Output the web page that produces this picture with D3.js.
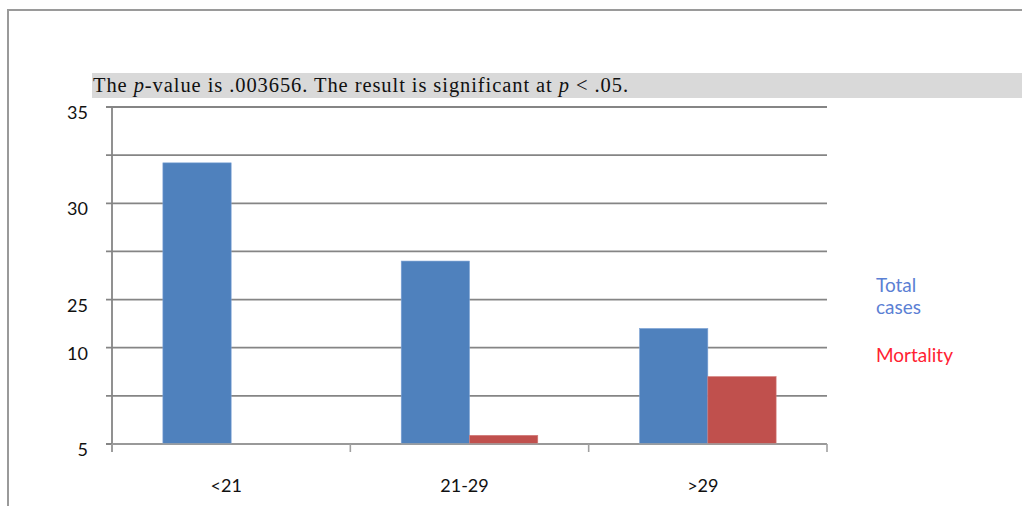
<!DOCTYPE html>
<html>
<head>
<meta charset="utf-8">
<script src="https://cdn.jsdelivr.net/npm/d3@7"></script>
<style>
    body { margin: 0; background: #fff; }
    svg { display: block; }
    .grid line { stroke: #858585; stroke-width: 1.8; }
    .lbl { font-family: Lato, "Open Sans", sans-serif; font-size: 18px; fill: #111; }
</style>
</head>
<body>
<svg id="canvas" width="1022" height="506"></svg>
<script>
// categories and series
const categories = ['<21', '21-29', '>29'];
const seriesNames = ['Total cases', 'Mortality'];
const totalCases = [29.2, 19, 12];
const mortality = [0, 0.9, 7];

// gridlines are every 5 on the hidden scale, only some carry a label
const gridValues = [0, 5, 10, 15, 20, 25, 30, 35];
const labelValues = [35, 25, 15, 10, 0];
const tickLabels = ['35', '30', '25', '10', '5'];

const seriesColors = ['#4f81bd', '#c0504d'];
const legendColors = ['#5b80d4', '#ff2232'];

const svg = d3.select('#canvas');

// outer frame
svg.append('path')
    .attr('d', 'M8,506V10H1022')
    .attr('fill', 'none')
    .attr('stroke', '#9a9a9a')
    .attr('stroke-width', 2);

// banner
svg.append('rect')
    .attr('x', 92).attr('y', 73)
    .attr('width', 930).attr('height', 25)
    .attr('fill', '#d9d9d9');

const title = svg.append('text')
    .attr('x', 93).attr('y', 92)
    .attr('font-family', '"Liberation Serif", "Times New Roman", serif')
    .attr('font-size', 20.5)
    .attr('fill', '#111')
    .attr('textLength', 535)
    .attr('lengthAdjust', 'spacing');
title.append('tspan').text('The ');
title.append('tspan').attr('font-style', 'italic').text('p');
title.append('tspan').text('-value is .003656. The result is significant at ');
title.append('tspan').attr('font-style', 'italic').text('p');
title.append('tspan').text(' < .05.');

const plotLeft = 112, plotRight = 827, plotTop = 107, plotBottom = 444;

const y = d3.scaleLinear()
    .domain([0, 35])
    .range([plotBottom, plotTop]);

const x0 = d3.scaleBand()
    .domain(categories)
    .range([plotLeft, plotRight])
    .paddingInner(0.427)
    .paddingOuter(0.2135);

const x1 = d3.scaleBand()
    .domain(seriesNames)
    .range([0, x0.bandwidth()]);

// gridlines
const grid = svg.append('g').attr('class', 'grid');
grid.selectAll('line')
    .data(gridValues)
    .enter().append('line')
    .attr('x1', plotLeft - 6)
    .attr('x2', plotRight)
    .attr('y1', d => y(d))
    .attr('y2', d => y(d));

// y axis labels
svg.append('g').selectAll('text')
    .data(labelValues)
    .enter().append('text')
    .attr('class', 'lbl')
    .attr('x', 88)
    .attr('y', d => y(d) + 12)
    .attr('text-anchor', 'end')
    .text((d, i) => tickLabels[i]);

// bars
const rows = categories.map((c, i) => ({cat: c, values: [totalCases[i], mortality[i]]}));
const groups = svg.append('g').selectAll('g')
    .data(rows)
    .enter().append('g')
    .attr('transform', d => 'translate(' + x0(d.cat) + ',0)');
groups.selectAll('rect')
    .data(d => d.values.map((v, j) => ({name: seriesNames[j], value: v, j: j})))
    .enter().append('rect')
    .attr('x', d => x1(d.name))
    .attr('width', x1.bandwidth())
    .attr('y', d => y(d.value))
    .attr('height', d => y(0) - y(d.value))
    .attr('fill', d => seriesColors[d.j])
    .attr('stroke', d => d.value > 0 ? (d.j === 0 ? '#7ea3d6' : '#d27a77') : 'none')
    .attr('stroke-width', 0.6);

// y axis line
svg.append('line')
    .attr('x1', plotLeft).attr('x2', plotLeft)
    .attr('y1', plotTop).attr('y2', plotBottom + 8)
    .attr('stroke', '#858585')
    .attr('stroke-width', 1.8);

// x axis line and category ticks
svg.append('line')
    .attr('x1', plotLeft).attr('x2', plotRight)
    .attr('y1', plotBottom).attr('y2', plotBottom)
    .attr('stroke', '#a0a0a0')
    .attr('stroke-width', 1.6);
const tickXs = categories.map(c => x0(c) - x0.step() * x0.paddingInner() / 2);
tickXs.push(plotRight);
svg.append('g').selectAll('line')
    .data(tickXs)
    .enter().append('line')
    .attr('x1', d => d).attr('x2', d => d)
    .attr('y1', plotBottom).attr('y2', plotBottom + 8)
    .attr('stroke', '#a0a0a0')
    .attr('stroke-width', 1.6);

// category labels
svg.append('g').selectAll('text')
    .data(categories)
    .enter().append('text')
    .attr('class', 'lbl')
    .attr('x', d => x0(d) + x0.bandwidth() / 2 - 5)
    .attr('y', 492)
    .attr('text-anchor', 'middle')
    .text(d => d);

// legend
const legend = svg.append('g')
    .attr('font-family', 'Lato, "Open Sans", sans-serif')
    .attr('font-size', 19);
legend.append('text').attr('x', 876).attr('y', 292).attr('fill', legendColors[0]).text('Total');
legend.append('text').attr('x', 876).attr('y', 314).attr('fill', legendColors[0]).text('cases');
legend.append('text').attr('x', 876).attr('y', 362).attr('fill', legendColors[1]).text(seriesNames[1]);
</script>
</body>
</html>
